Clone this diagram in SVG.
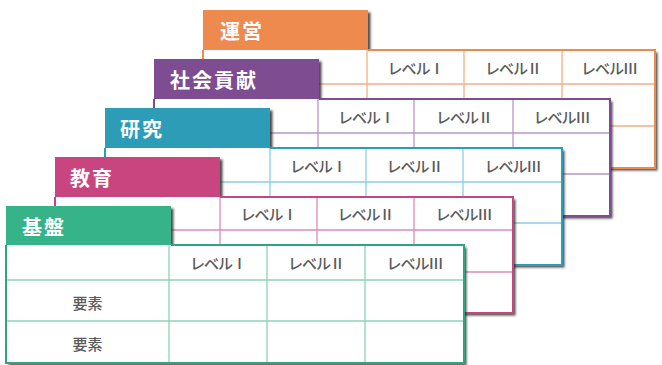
<svg xmlns="http://www.w3.org/2000/svg" width="662" height="365" viewBox="0 0 662 365">
<defs>
<filter id="sh" x="-5%" y="-5%" width="110%" height="115%">
<feDropShadow dx="2.5" dy="2.5" stdDeviation="1" flood-color="#222" flood-opacity="0.8"/>
</filter>
</defs>
<style>
.bg{fill:#fff;filter:url(#sh)}
.t{font-family:"Noto Sans CJK JP","Noto Sans",sans-serif;font-weight:bold;font-size:20px;fill:#fff;letter-spacing:2px;dominant-baseline:central}
.h{font-family:"Noto Sans CJK JP","Noto Sans",sans-serif;font-weight:500;font-size:15px;fill:#5a5a5a;text-anchor:middle;dominant-baseline:central}
.n{letter-spacing:-1px}
.g{fill:none;stroke-width:1.3}
.o{fill:none;stroke-width:2}
#unei .g{stroke:#F4AE83}#unei .o{stroke:#EC8A4F}#unei .tab{fill:#EE8A4E}
#shakai .g{stroke:#B799C6}#shakai .o{stroke:#7D4C91}#shakai .tab{fill:#7D4C91}
#kenkyu .g{stroke:#8ACFE1}#kenkyu .o{stroke:#2C9CB7}#kenkyu .tab{fill:#2D9CB7}
#kyoiku .g{stroke:#DE8DB0}#kyoiku .o{stroke:#C8457F}#kyoiku .tab{fill:#C9457F}
#kiban .g{stroke:#8DD3B8}#kiban .o{stroke:#2FA57F}#kiban .tab{fill:#37B38A}
</style>

<g id="unei" transform="translate(203,10)">
<path class="bg" d="M0,0H165V40H452V158H0Z"/>
<path class="g" d="M0,74H452M0,116H452M164,40V158M261,40V158M359,40V158"/>
<path class="o" d="M0,40V158H452V40H165"/>
<rect class="tab" x="0" y="0" width="165" height="40"/>
<text class="t" x="17" y="20">運営</text>
<text class="h n" x="212.5" y="57">レベルⅠ</text>
<text class="h n" x="310" y="57">レベルⅡ</text>
<text class="h n" x="406" y="57">レベルⅢ</text>
</g>

<g id="shakai" transform="translate(154,59)">
<path class="bg" d="M0,0H165V40H456V157H0Z"/>
<path class="g" d="M0,74H456M0,115H456M164,40V157M260,40V157M359,40V157"/>
<path class="o" d="M0,40V157H456V40H165"/>
<rect class="tab" x="0" y="0" width="165" height="40"/>
<text class="t" x="16" y="20">社会貢献</text>
<text class="h n" x="212" y="57">レベルⅠ</text>
<text class="h n" x="310" y="57">レベルⅡ</text>
<text class="h n" x="407.5" y="57">レベルⅢ</text>
</g>

<g id="kenkyu" transform="translate(105,108)">
<path class="bg" d="M0,0H165V40H457V157H0Z"/>
<path class="g" d="M0,74H457M0,115H457M165,40V157M261,40V157M358,40V157"/>
<path class="o" d="M0,40V157H457V40H165"/>
<rect class="tab" x="0" y="0" width="165" height="40"/>
<text class="t" x="15" y="20">研究</text>
<text class="h n" x="213" y="57">レベルⅠ</text>
<text class="h n" x="309.5" y="57">レベルⅡ</text>
<text class="h n" x="407.5" y="57">レベルⅢ</text>
</g>

<g id="kyoiku" transform="translate(55,157)">
<path class="bg" d="M0,0H165V40H458V156H0Z"/>
<path class="g" d="M0,73H458M0,115H458M165,40V156M262,40V156M359,40V156"/>
<path class="o" d="M0,40V156H458V40H165"/>
<rect class="tab" x="0" y="0" width="165" height="40"/>
<text class="t" x="15" y="20">教育</text>
<text class="h n" x="213.5" y="56.5">レベルⅠ</text>
<text class="h n" x="310.5" y="56.5">レベルⅡ</text>
<text class="h n" x="408.5" y="56.5">レベルⅢ</text>
</g>

<g id="kiban" transform="translate(6,206)">
<path class="bg" d="M0,0H165V39H458V157H0Z"/>
<path class="g" d="M0,74H458M0,115H458M163,39V157M261,39V157M359,39V157"/>
<path class="o" d="M0,39V157H458V39H165"/>
<rect class="tab" x="0" y="0" width="165" height="39"/>
<text class="t" x="16" y="20">基盤</text>
<text class="h n" x="212" y="56.5">レベルⅠ</text>
<text class="h n" x="310" y="56.5">レベルⅡ</text>
<text class="h n" x="408.5" y="56.5">レベルⅢ</text>
<text class="h" x="81.5" y="96">要素</text>
<text class="h" x="81.5" y="137">要素</text>
</g>
</svg>
